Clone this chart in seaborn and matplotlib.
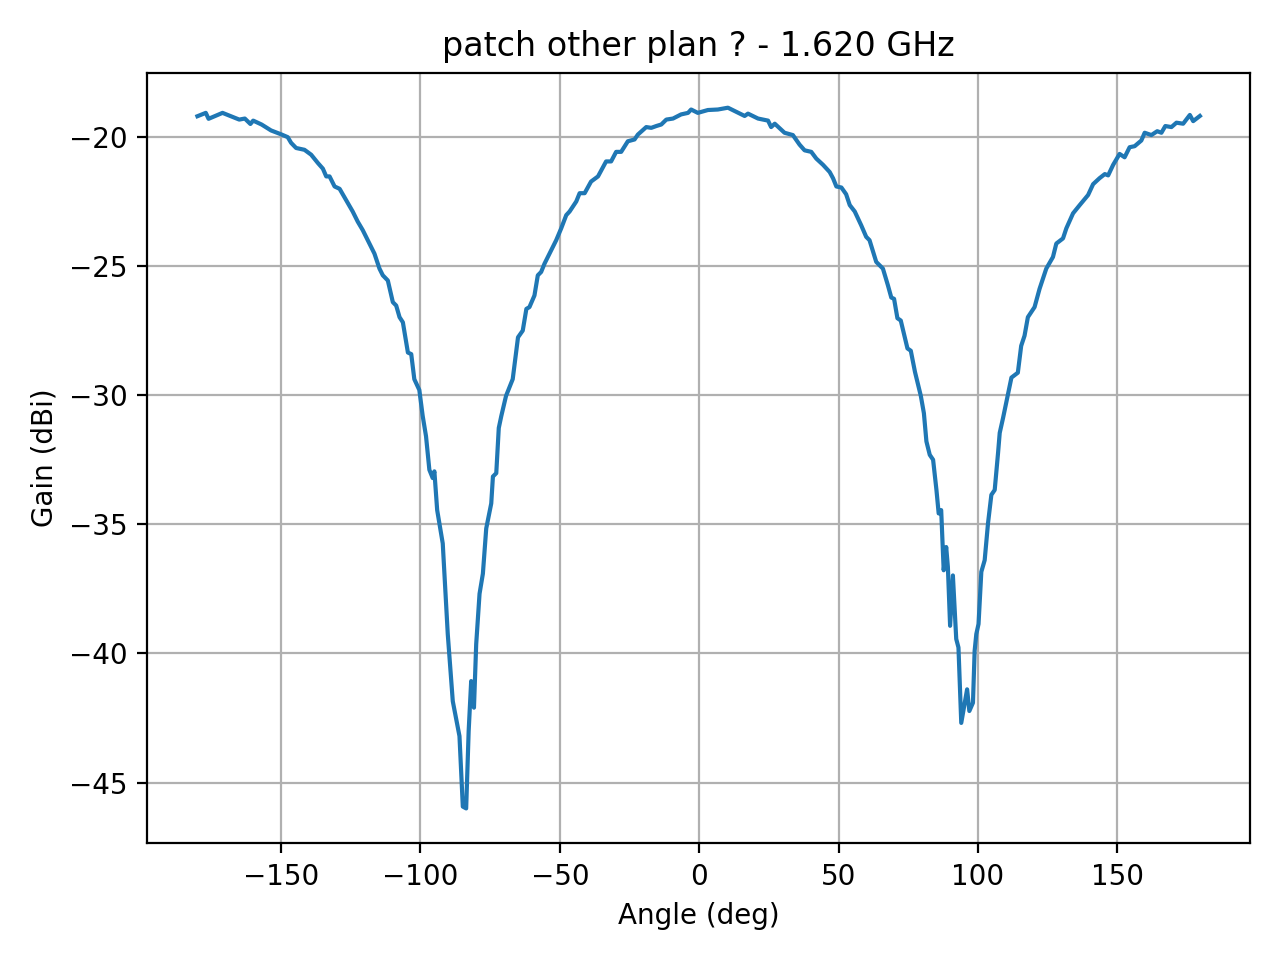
import matplotlib
matplotlib.use("Agg")
import matplotlib.pyplot as plt
import pandas as pd
import seaborn as sns

angle_deg = [
    -180, -177, -176, -171, -168, -165, -163, -161, -160, -157,
    -153.6, -150, -147.6, -146.4, -144.6, -141.6, -139.2, -136.8, -135, -133.8,
    -132.6, -130.8, -129, -126.7, -124.3, -122.5, -120.7, -118.9, -116.5, -114.7,
    -113.5, -111.7, -109.9, -108.7, -107.5, -106.3, -104.5, -103.3, -102.2, -100.4,
    -99.2, -98, -96.8, -95.6, -95, -94, -92, -90.2, -88.4, -86,
    -84.8, -83.6, -82.7, -81.8, -80.8, -80, -78.8, -77.6, -76.4, -74.6,
    -74, -72.8, -71.9, -71, -69.3, -66.9, -65, -63.3, -62, -60.9,
    -59.1, -57.9, -56.7, -55.5, -53.1, -51.3, -49.5, -47.7, -46.5, -44.1,
    -42.9, -41.1, -38.8, -36.3, -33.4, -31.6, -29.8, -28, -25.6, -23.2,
    -22, -19, -17.2, -15.4, -13.6, -11.8, -9.4, -6.5, -4, -2.9,
    -0.5, 3.1, 6.7, 10.3, 13.3, 16.3, 17.5, 21.1, 24.7, 25.8,
    27.1, 30.6, 33.6, 36, 37.8, 40.2, 42, 44.4, 46.8, 48,
    49.2, 51, 52.7, 54, 55.8, 58.1, 59.9, 61.1, 63.5, 65.9,
    67.7, 68.9, 69.9, 71.1, 72.3, 74.7, 75.9, 77.4, 79.5, 80.6,
    81.5, 82.7, 83.9, 85.1, 85.9, 86.8, 87.7, 88.6, 89.2, 90,
    91, 92.2, 93, 94, 96.1, 96.9, 98.2, 98.8, 99.4, 100.2,
    101.2, 102.4, 103.6, 104.8, 106, 107.2, 107.8, 109, 112, 114.3,
    115.5, 116.7, 117.9, 120.3, 122.1, 123.3, 124.5, 126.9, 128.1, 130.5,
    131.7, 134.1, 136.5, 139.5, 141.3, 143.6, 145.5, 146.7, 148.5, 150.8,
    152.6, 154.4, 156.2, 158.6, 159.8, 162.2, 164.3, 165.8, 167.2, 169.4,
    171.2, 173.6, 176, 177.2, 179.6,
]
gain_dbi = [
    -19.2, -19.07, -19.3, -19.07, -19.2, -19.33, -19.29, -19.5, -19.37, -19.52,
    -19.75, -19.9, -20.01, -20.23, -20.43, -20.5, -20.69, -21.01, -21.23, -21.53,
    -21.53, -21.92, -22.01, -22.44, -22.89, -23.28, -23.61, -24.0, -24.52, -25.1,
    -25.36, -25.56, -26.4, -26.53, -26.98, -27.18, -28.35, -28.41, -29.38, -29.8,
    -30.8, -31.59, -32.89, -33.21, -32.95, -34.45, -35.74, -39.25, -41.85, -43.2,
    -45.93, -46.0, -43.0, -41.07, -42.1, -39.64, -37.69, -36.91, -35.16, -34.19,
    -33.15, -33.02, -31.27, -30.81, -30.03, -29.38, -27.76, -27.5, -26.66, -26.59,
    -26.14, -25.36, -25.23, -24.91, -24.39, -24.0, -23.54, -23.03, -22.89, -22.5,
    -22.18, -22.18, -21.73, -21.53, -20.95, -20.95, -20.58, -20.58, -20.17, -20.1,
    -19.91, -19.62, -19.65, -19.58, -19.52, -19.33, -19.29, -19.13, -19.07, -18.94,
    -19.07, -18.96, -18.94, -18.87, -19.03, -19.19, -19.1, -19.29, -19.37, -19.62,
    -19.49, -19.84, -19.93, -20.3, -20.52, -20.58, -20.84, -21.08, -21.36, -21.6,
    -21.92, -21.96, -22.22, -22.64, -22.89, -23.42, -23.87, -24.0, -24.84, -25.1,
    -25.75, -26.22, -26.27, -27.02, -27.11, -28.19, -28.28, -29.1, -30.03, -30.7,
    -31.79, -32.31, -32.5, -33.67, -34.58, -34.45, -36.78, -35.88, -36.65, -38.93,
    -36.98, -39.44, -39.77, -42.69, -41.39, -42.23, -41.91, -39.9, -39.25, -38.86,
    -36.84, -36.39, -34.96, -33.86, -33.67, -32.24, -31.46, -30.88, -29.32, -29.13,
    -28.09, -27.7, -26.98, -26.59, -25.88, -25.49, -25.1, -24.65, -24.13, -23.93,
    -23.54, -22.96, -22.64, -22.25, -21.83, -21.6, -21.44, -21.49, -21.08, -20.66,
    -20.79, -20.4, -20.36, -20.14, -19.84, -19.93, -19.78, -19.84, -19.58, -19.62,
    -19.45, -19.49, -19.15, -19.39, -19.19,
]

df = pd.DataFrame({"Angle (deg)": angle_deg, "Gain (dBi)": gain_dbi})

fig, ax = plt.subplots(figsize=(6.4, 4.8), dpi=200)
sns.lineplot(data=df, x="Angle (deg)", y="Gain (dBi)", ax=ax,
             sort=False, estimator=None, color="tab:blue", linewidth=1.5)
ax.grid(True)
ax.set_title("patch other plan ? - 1.620 GHz")
ax.set_xlabel("Angle (deg)")
ax.set_ylabel("Gain (dBi)")
fig.tight_layout()
fig.savefig("out.png", dpi=200)
